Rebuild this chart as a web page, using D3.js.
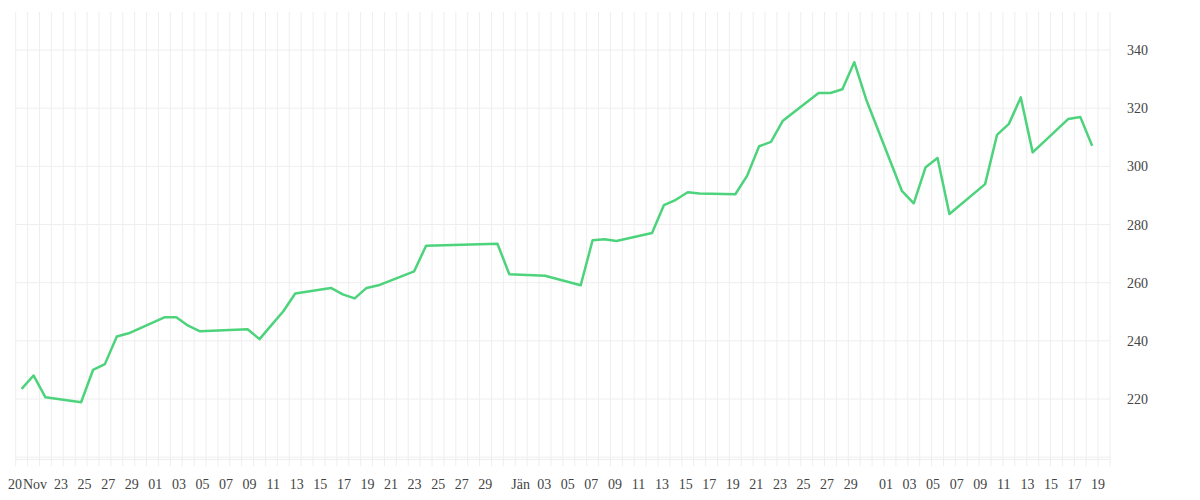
<!DOCTYPE html>
<html>
<head>
<meta charset="utf-8">
<script src="https://cdn.jsdelivr.net/npm/d3@7"></script>
<style>
  body { margin: 0; background: #fff; }
  text { font-family: "Liberation Serif", serif; font-size: 14px; fill: #444; }
</style>
</head>
<body>
<script>
// data
var dates = [
  "2024-11-20","2024-11-21","2024-11-22","2024-11-25","2024-11-26","2024-11-27","2024-11-28","2024-11-29",
  "2024-12-02","2024-12-03","2024-12-04","2024-12-05",
  "2024-12-09","2024-12-10","2024-12-11","2024-12-12","2024-12-13",
  "2024-12-16","2024-12-17","2024-12-18","2024-12-19","2024-12-20",
  "2024-12-23","2024-12-24","2024-12-30","2024-12-31",
  "2025-01-03","2025-01-06","2025-01-07","2025-01-08","2025-01-09",
  "2025-01-12","2025-01-13","2025-01-14","2025-01-15","2025-01-16",
  "2025-01-19","2025-01-20","2025-01-21","2025-01-22","2025-01-23",
  "2025-01-26","2025-01-27","2025-01-28","2025-01-29","2025-01-30",
  "2025-02-02","2025-02-03","2025-02-04","2025-02-05","2025-02-06",
  "2025-02-09","2025-02-10","2025-02-11","2025-02-12","2025-02-13",
  "2025-02-16","2025-02-17","2025-02-18"
];
var values = [
  223.5,228.1,220.6,218.9,230.0,232.0,241.5,242.6,
  248.1,248.1,245.2,243.3,
  244.0,240.6,245.4,250.2,256.3,
  258.2,256.0,254.6,258.2,259.1,
  263.9,272.7,273.4,262.9,
  262.4,259.1,274.6,274.9,274.3,
  277.1,286.7,288.5,291.1,290.7,
  290.4,296.8,306.9,308.4,315.7,
  325.2,325.2,326.5,335.8,323.0,
  291.6,287.3,299.7,302.9,283.6,
  293.9,310.8,314.6,323.7,304.8,
  316.3,317.0,307.1
];
var yTicks = [200, 220, 240, 260, 280, 300, 320, 340];
var monthNames = ["Jän", "Feb", "Mär", "Apr", "Mai", "Jun", "Jul", "Aug", "Sep", "Okt", "Nov", "Dez"];

var w = 1200, h = 500;
var parse = d3.timeParse("%Y-%m-%d");

var svg = d3.select("body").append("svg")
  .attr("width", w)
  .attr("height", h);

var x = d3.scaleTime()
  .domain([parse("2024-11-20"), parse("2025-02-20")])
  .range([15.7, 1110]);

var y = d3.scaleLinear()
  .domain([200, 340])
  .range([457.2, 50]);

// daily vertical grid
var days = d3.timeDay.range(x.domain()[0], d3.timeDay.offset(x.domain()[1], 1));
svg.append("g").selectAll("line")
  .data(days)
  .enter().append("line")
  .attr("x1", function(d) { return x(d); })
  .attr("x2", function(d) { return x(d); })
  .attr("y1", 12)
  .attr("y2", 466)
  .attr("stroke", "#eeeeee")
  .attr("stroke-width", 1);

// horizontal grid
svg.append("g").selectAll("line")
  .data(yTicks)
  .enter().append("line")
  .attr("x1", 15.7).attr("x2", 1110)
  .attr("y1", function(d) { return y(d); })
  .attr("y2", function(d) { return y(d); })
  .attr("stroke", "#eeeeee");

svg.append("line")
  .attr("x1", 15.7).attr("x2", 1110)
  .attr("y1", 459.5).attr("y2", 459.5)
  .attr("stroke", "#eeeeee");

// y labels
svg.append("g").selectAll("text")
  .data(yTicks.filter(function(d) { return d > 200; }))
  .enter().append("text")
  .attr("x", 1127)
  .attr("y", function(d) { return y(d) + 5; })
  .text(function(d) { return d; });

// x labels (every second day), drifting slightly right at the start like the original
var labelDays = days.filter(function(d) {
  var i = d3.timeDay.count(x.domain()[0], d);
  return d <= parse("2025-02-19") && (i === 0 || (d.getDate() % 2 === 1 && d.getDate() !== 31));
});
svg.append("g").selectAll("text")
  .data(labelDays)
  .enter().append("text")
  .attr("y", 489)
  .attr("text-anchor", "middle")
  .text(function(d, i) {
    if (i === 0) return "20";
    if (d.getDate() === 21 && d.getMonth() === 10) return "Nov";
    if (d.getDate() === 1 && d.getMonth() === 0) return monthNames[0];
    return d3.timeFormat("%d")(d);
  })
  .attr("x", function(d, i) {
    if (i === 0) return 15;
    if (d.getDate() === 21 && d.getMonth() === 10) return 35;
    var px = x(d);
    return px + 10 * (1 - (px - 15) / 1083);
  });

// line
var data = dates.map(function(d, i) {
  return { date: d3.timeHour.offset(parse(d), 12), value: values[i] };
});
var line = d3.line()
  .x(function(d) { return x(d.date); })
  .y(function(d) { return y(d.value); });

svg.append("path")
  .datum(data)
  .attr("d", line)
  .attr("fill", "none")
  .attr("stroke", "#4cd37b")
  .attr("stroke-width", 2.5)
  .attr("stroke-linejoin", "round");
</script>
</body>
</html>
